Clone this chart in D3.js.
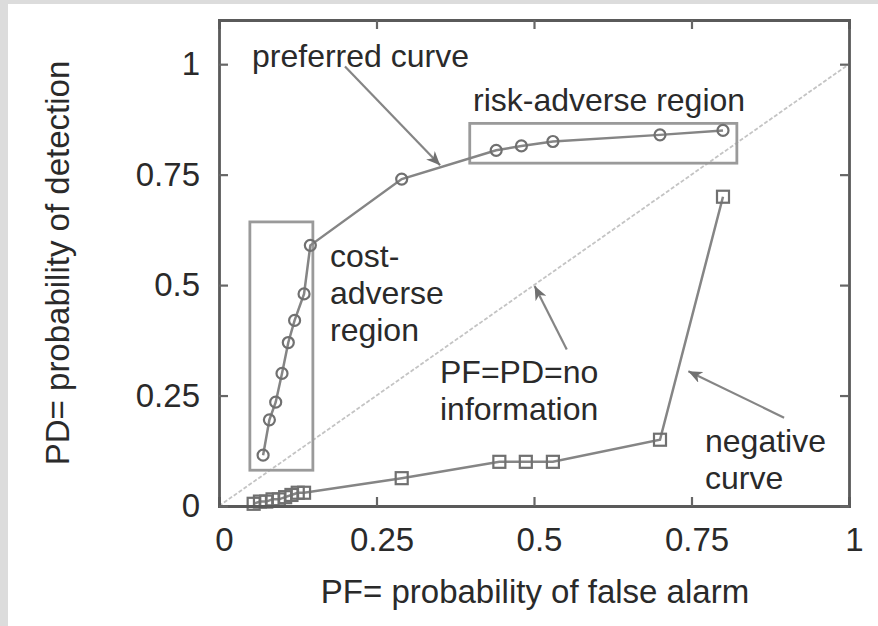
<!DOCTYPE html>
<html><head><meta charset="utf-8">
<script src="https://cdn.jsdelivr.net/npm/d3@7"></script>
<style>
html,body{margin:0;padding:0;background:#dcdcdc;}
svg{display:block;}
text{font-family:"Liberation Sans",Arial,sans-serif;fill:#2a2a2a;}
</style></head>
<body>
<script>
// ---- data ----
const xTicks = [0, 0.25, 0.5, 0.75, 1];
const yTicks = [0, 0.25, 0.5, 0.75, 1];
const xTickLabels = ["0", "0.25", "0.5", "0.75", "1"];
const yTickLabels = ["0", "0.25", "0.5", "0.75", "1"];
// preferred curve (PF, PD)
const preferredPF = [0.07, 0.08, 0.09, 0.10, 0.11, 0.12, 0.135, 0.145, 0.29, 0.44, 0.48, 0.53, 0.70, 0.80];
const preferredPD = [0.115, 0.195, 0.235, 0.30, 0.37, 0.42, 0.48, 0.59, 0.74, 0.805, 0.815, 0.825, 0.84, 0.85];
// negative curve (PF, PD)
const negativePF = [0.055, 0.065, 0.075, 0.085, 0.095, 0.105, 0.115, 0.125, 0.135, 0.29, 0.445, 0.487, 0.53, 0.70, 0.80];
const negativePD = [0.005, 0.01, 0.01, 0.015, 0.015, 0.02, 0.025, 0.03, 0.03, 0.063, 0.10, 0.10, 0.10, 0.15, 0.70];
// no-information diagonal
const diagPF = [0, 1];
const diagPD = [0, 1];
// regions [PF0, PF1, PD0, PD1]
const costRegion = [0.049, 0.149, 0.081, 0.643];
const riskRegion = [0.398, 0.822, 0.776, 0.866];
// labels
const xTitle = "PF= probability of false alarm";
const yTitle = "PD= probability of detection";
const costLabel = ["cost-", "adverse", "region"];
const riskLabel = ["risk-adverse region"];
const prefLabel = ["preferred curve"];
const noInfoLabel = ["PF=PD=no", "information"];
const negLabel = ["negative", "curve"];
// arrows: [fromPF, fromPD, toPF, toPD]
const prefArrow = [0.20, 0.995, 0.351, 0.771];
const noInfoArrow = [0.552, 0.354, 0.501, 0.498];
const negArrow = [0.897, 0.20, 0.745, 0.305];

// ---- layout ----
const W = 878, H = 626;
const svg = d3.select("body").append("svg").attr("width", W).attr("height", H);
svg.append("rect").attr("x", 8).attr("y", 4).attr("width", W - 8).attr("height", H - 4).attr("fill", "#fff");

const x = d3.scaleLinear().domain([0, 1]).range([219, 849]);
const y = d3.scaleLinear().domain([0, 1.1]).range([506, 20]);
const gray = "#858585";
const fs = 32;

const defs = svg.append("defs");
defs.append("marker").attr("id", "ah").attr("viewBox", "0 0 14 12").attr("refX", 14).attr("refY", 6)
  .attr("markerWidth", 14).attr("markerHeight", 12).attr("markerUnits", "userSpaceOnUse").attr("orient", "auto")
  .append("path").attr("d", "M0,0 L14,6 L0,12 L4,6 Z").attr("fill", "#707070");

// diagonal
svg.append("path").datum(diagPF.map((d, i) => [d, diagPD[i]]))
  .attr("d", d3.line().x(d => x(d[0])).y(d => y(d[1])))
  .attr("stroke", "#c4c4c4").attr("stroke-width", 1.8).attr("fill", "none").attr("stroke-dasharray", "4,2");

// region boxes
[costRegion, riskRegion].forEach(r => {
  svg.append("rect").attr("x", x(r[0])).attr("y", y(r[3]))
    .attr("width", x(r[1]) - x(r[0])).attr("height", y(r[2]) - y(r[3]))
    .attr("fill", "none").attr("stroke", "#9a9a9a").attr("stroke-width", 2.8);
});

// curves
const line = d3.line().x(d => x(d[0])).y(d => y(d[1]));
const pref = preferredPF.map((d, i) => [d, preferredPD[i]]);
const neg = negativePF.map((d, i) => [d, negativePD[i]]);
svg.append("path").datum(pref).attr("d", line).attr("fill", "none").attr("stroke", gray).attr("stroke-width", 2.5);
svg.append("path").datum(neg).attr("d", line).attr("fill", "none").attr("stroke", gray).attr("stroke-width", 2.5);
svg.selectAll(".pm").data(pref).enter().append("circle")
  .attr("cx", d => x(d[0])).attr("cy", d => y(d[1])).attr("r", 5.5)
  .attr("fill", "none").attr("stroke", "#707070").attr("stroke-width", 2.2);
svg.selectAll(".nm").data(neg).enter().append("rect")
  .attr("x", d => x(d[0]) - 6).attr("y", d => y(d[1]) - 6).attr("width", 12).attr("height", 12)
  .attr("fill", "none").attr("stroke", "#707070").attr("stroke-width", 2.2);

// arrows
[prefArrow, noInfoArrow, negArrow].forEach(a => {
  svg.append("line").attr("x1", x(a[0])).attr("y1", y(a[1])).attr("x2", x(a[2])).attr("y2", y(a[3]))
    .attr("stroke", gray).attr("stroke-width", 2.2).attr("marker-end", "url(#ah)");
});

// frame and axes
const gx = svg.append("g").attr("transform", `translate(0,${y(0)})`)
  .call(d3.axisBottom(x).tickValues(xTicks).tickSize(-9).tickFormat((d, i) => xTickLabels[i]).tickPadding(22));
const gxt = svg.append("g").attr("transform", `translate(0,${y(1.1)})`)
  .call(d3.axisTop(x).tickValues(xTicks).tickSize(-9).tickFormat(""));
const gy = svg.append("g").attr("transform", `translate(${x(0)},0)`)
  .call(d3.axisLeft(y).tickValues(yTicks).tickSize(-9).tickFormat((d, i) => yTickLabels[i]).tickPadding(19));
const gyr = svg.append("g").attr("transform", `translate(${x(1)},0)`)
  .call(d3.axisRight(y).tickValues(yTicks).tickSize(-9).tickFormat(""));
[gx, gxt, gy, gyr].forEach(g => {
  g.select(".domain").attr("stroke", "#5a5a5a").attr("stroke-width", 2.8);
  g.selectAll(".tick line").attr("stroke", "#666").attr("stroke-width", 2.2);
  g.selectAll(".tick text").attr("font-size", fs + 1).attr("fill", "#2a2a2a")
    .attr("font-family", "Liberation Sans, Arial, sans-serif");
});
gx.selectAll(".tick text").attr("dx", 5);

// titles
svg.append("text").attr("x", 535).attr("y", 603).attr("text-anchor", "middle").attr("font-size", fs + 1).text(xTitle);
svg.append("text").attr("transform", "translate(69,263) rotate(-90)").attr("text-anchor", "middle").attr("font-size", fs + 1).text(yTitle);

// annotation text
function multi(lines, px, py, lh) {
  lines.forEach((t, i) => svg.append("text").attr("x", px).attr("y", py + i * lh).attr("font-size", fs).text(t));
}
multi(prefLabel, 252, 67, 37);
multi(riskLabel, 473, 111, 37);
multi(costLabel, 330, 267, 37);
multi(noInfoLabel, 440, 383, 37);
multi(negLabel, 705, 452, 37);
</script>
</body></html>
